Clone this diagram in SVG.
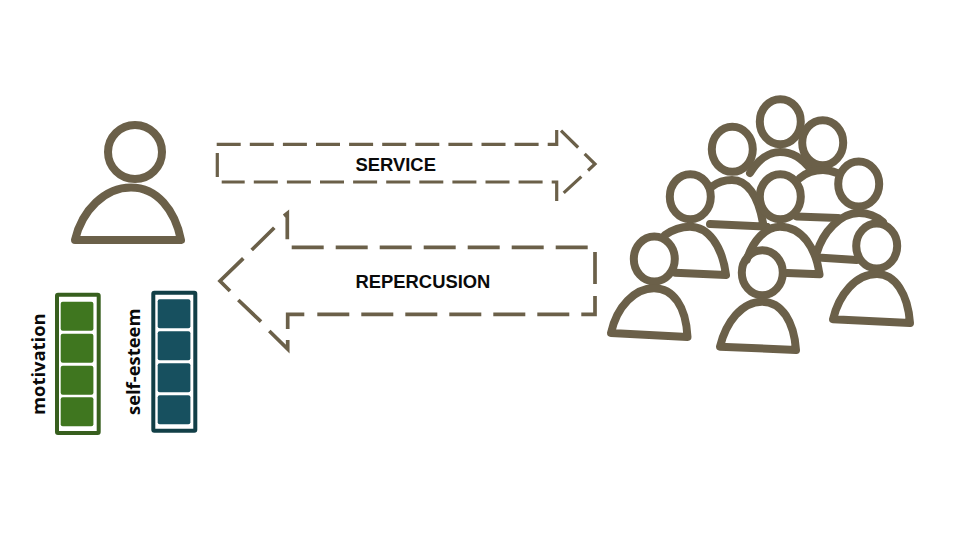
<svg xmlns="http://www.w3.org/2000/svg" width="960" height="540" viewBox="0 0 960 540">
<style>
.p{fill:none;stroke:#6b6049;stroke-width:8;stroke-linecap:round;stroke-linejoin:round}
.a{fill:none;stroke:#6b6049;stroke-linejoin:miter}
.l{font-family:"Liberation Sans",Arial,sans-serif;font-weight:700;font-size:18.4px;fill:#0a0a0a}
.b{font-family:"Open Sans",sans-serif;font-weight:700;font-size:18.4px;fill:#0a0a0a}
.g{fill:#3f761f}.gb{fill:#fff;stroke:#375f1e;stroke-width:4}
.t{fill:#17505f}.tb{fill:#fff;stroke:#123f47;stroke-width:4}
</style>
<rect width="960" height="540" fill="#fff"/>
<g id="connectors">
<path class="a" stroke-width="3.200" stroke-dasharray="24 9.100" d="M216.700 144.300H556.700V130M561 130.700L595 164L563.300 193.300M556.700 201V182H221.700M217.300 153V177"/>
<path class="a" stroke-width="3.700" stroke-dasharray="32 12" d="M291.700 247.300H595V314.300H307"/>
<path class="a" stroke-width="3.700" d="M304.300 314.300H287.700V329M287.700 340V349L269.300 331M261 321.700L238.300 300M230 291L220 281L243.300 258.300M251.700 250L274.300 227.700M287.300 239.300V213.300L284 216"/>
<text class="l" x="355.500" y="170.700">SERVICE</text>
<text class="l" x="355.500" y="287.700">REPERCUSION</text>
</g>
<g id="person">
<circle class="p" cx="135" cy="152" r="27"/>
<path class="p" d="M75 240C82 210 105 187.500 131 187.500C157 187.500 175 210 181 240Z"/>
</g>
<g id="crowd">
<g id="crowd-1"><ellipse class="p" cx="780.300" cy="121.700" rx="20.500" ry="22.500"/><path class="p" d="M750 173C758 160 769 152 780 152C792 152 803 159 811 170"/></g>
<g id="crowd-2"><ellipse class="p" cx="822.700" cy="142.700" rx="20.500" ry="22.500"/><path class="p" d="M800 178C807 172 815 170 823 170C828 170 832 171 837 173M796.700 216.500L838 218"/></g>
<g id="crowd-3"><ellipse class="p" cx="732.300" cy="149.300" rx="20.500" ry="22.500"/><path class="p" d="M711.700 186.700C718 182 725 180 732 180C747 180 758 195 763 223M710 224L766.700 226.700"/></g>
<g id="crowd-4"><ellipse class="p" cx="858.700" cy="184" rx="20.500" ry="22.500"/><path class="p" d="M816.700 253C823 232 840 213 859 213C868 213 876 216 883 222M821.700 257.700L856.700 260"/></g>
<g id="crowd-5"><ellipse class="p" cx="690.300" cy="196.700" rx="20.500" ry="22.500"/><path class="p" d="M665 235C672 230 681 226.700 690 226.700C708 226.700 722 245 726 275L675 272.700"/></g>
<g id="crowd-6"><ellipse class="p" cx="780.300" cy="196.700" rx="20.500" ry="22.500"/><path class="p" d="M746.700 260C753 240 766 226.700 780 226.700C802 226.700 816 248 819.500 274.300L787 273"/></g>
<g id="crowd-7"><ellipse class="p" cx="876.700" cy="246" rx="20.500" ry="22.500"/><path class="p" d="M833 319.300C839 294 856 274 877 274C895 274 908 294 910 323Z"/></g>
<g id="crowd-8"><ellipse class="p" cx="654.300" cy="259" rx="20.500" ry="22.500"/><path class="p" d="M611 333C617 306 635 288.300 654 288.300C673 288.300 686 306 687.500 337Z"/></g>
<g id="crowd-9"><ellipse class="p" cx="762.300" cy="272.700" rx="20.500" ry="22.500"/><path class="p" d="M720 346.700C726 322 742 301.700 762 301.700C782 301.700 794 322 796 350Z"/></g>
</g>
<g id="motivation">
<rect class="gb" x="57" y="294.700" width="41.700" height="138.300" rx="1"/>
<rect class="g" x="60.700" y="301.700" width="32.700" height="29" rx="2"/>
<rect class="g" x="60.700" y="333.700" width="32.700" height="29" rx="2"/>
<rect class="g" x="60.700" y="365.700" width="32.700" height="29" rx="2"/>
<rect class="g" x="60.700" y="397.300" width="32.700" height="29" rx="2"/>
<text class="b" transform="translate(45 415) rotate(-90)">motivation</text>
</g>
<g id="self-esteem">
<rect class="tb" x="153.300" y="292.700" width="42" height="138" rx="1"/>
<rect class="t" x="157.700" y="299.300" width="32.700" height="29" rx="2"/>
<rect class="t" x="157.700" y="331.300" width="32.700" height="29" rx="2"/>
<rect class="t" x="157.700" y="363.300" width="32.700" height="29" rx="2"/>
<rect class="t" x="157.700" y="395.300" width="32.700" height="29" rx="2"/>
<text class="b" transform="translate(140 415) rotate(-90)">self-esteem</text>
</g>
</svg>
